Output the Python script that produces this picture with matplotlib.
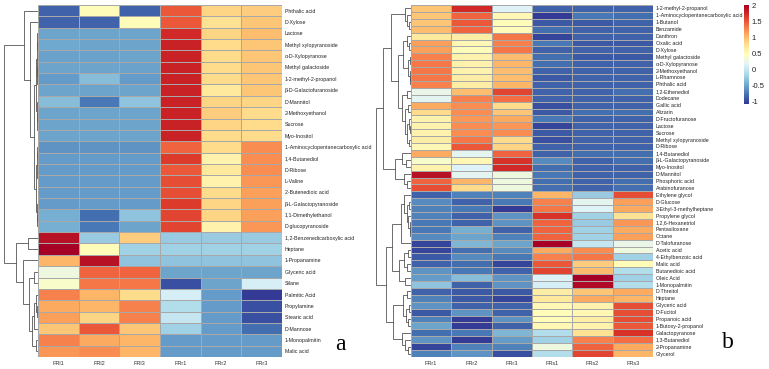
import numpy as np
import matplotlib
matplotlib.use("Agg")
import matplotlib.pyplot as plt
from matplotlib.colors import Normalize
from matplotlib.cm import ScalarMappable

plt.rcParams['font.family'] = ['Liberation Sans', 'DejaVu Sans']

# ---------------- panel a ----------------
cols_a = ['FRl1', 'FRl2', 'FRl3', 'FRr1', 'FRr2', 'FRr3']
rows_a = ['Phthalic acid', 'D-Xylose', 'Lactose', 'Methyl xylopyranoside',
          'α-D-Xylopyranose', 'Methyl galactoside', '1-2-methyl-2-propanol',
          'β-D-Galactofuranoside', 'D-Mannitol', '2-Methoxyethanol', 'Sucrose',
          'Myo-Inositol', '1-Aminocyclopentanecarboxylic acid', '1,4-Butanediol',
          'D-Ribose', 'L-Valine', '2-Butenedioic acid', 'β-L-Galactopyranoside',
          '1,1-Dimethylethanol', 'D-glucopyranoside', '1,2-Benzenedicarboxylic acid',
          'Heptane', '1-Propanamine', 'Glyceric acid', 'Silane', 'Palmitic Acid',
          'Propylamine', 'Stearic acid', 'D-Mannose', '1-Monopalmitin', 'Malic acid']
vals_a = [
    [-0.85, 0.50, -0.85, 1.50, 0.85, 0.90],
    [-0.85, -0.85, 0.50, 1.50, 0.75, 0.95],
    [-0.50, -0.50, -0.50, 1.75, 0.85, 1.00],
    [-0.48, -0.50, -0.50, 1.80, 0.80, 0.95],
    [-0.52, -0.52, -0.50, 1.80, 0.80, 0.95],
    [-0.50, -0.50, -0.52, 1.80, 0.80, 0.95],
    [-0.55, -0.35, -0.55, 1.80, 0.80, 0.95],
    [-0.50, -0.50, -0.50, 1.80, 0.70, 0.95],
    [-0.35, -0.75, -0.30, 1.80, 0.85, 0.85],
    [-0.50, -0.50, -0.50, 1.80, 0.90, 0.80],
    [-0.50, -0.50, -0.50, 1.80, 0.85, 0.80],
    [-0.50, -0.50, -0.50, 1.80, 0.80, 0.80],
    [-0.60, -0.60, -0.60, 1.45, 0.80, 1.25],
    [-0.55, -0.55, -0.55, 1.65, 0.60, 1.25],
    [-0.55, -0.55, -0.55, 1.50, 0.70, 1.25],
    [-0.55, -0.55, -0.55, 1.55, 0.60, 1.20],
    [-0.55, -0.55, -0.55, 1.55, 0.80, 1.15],
    [-0.55, -0.55, -0.55, 1.65, 0.85, 1.15],
    [-0.45, -0.80, -0.30, 1.60, 0.85, 1.15],
    [-0.45, -0.75, -0.50, 1.60, 0.60, 1.20],
    [1.90, -0.25, 0.90, -0.25, -0.25, -0.25],
    [2.05, 0.50, -0.20, -0.20, -0.20, -0.20],
    [1.05, 1.90, -0.30, -0.30, -0.30, -0.30],
    [0.30, 1.45, 1.45, -0.50, -0.50, -0.50],
    [0.40, 1.35, 1.35, -0.95, -0.50, 0.10],
    [1.30, 1.05, 0.80, 0.10, -0.55, -1.05],
    [1.10, 1.05, 1.30, -0.10, -0.55, -0.95],
    [1.15, 0.85, 1.30, 0.00, -0.55, -0.95],
    [0.95, 1.50, 0.95, -0.20, -0.55, -0.80],
    [1.30, 1.10, 1.05, -0.55, -0.55, -0.55],
    [1.20, 1.25, 1.05, -0.55, -0.55, -0.55],
]
# row tree: [merge height, left, right], leaves are row indices
tree_a = [34,
          [14, 0,
           [8, 1,
            [4,
             [1.8, [1.0, [0.6, 2, [0.4, 3, 4]], [0.7, 5, [0.5, 6, 7]]],
              [1.2, 8, [0.8, 9, [0.5, 10, 11]]]],
             [2.2, [1.0, [0.6, 12, 13], [0.5, 14, [0.3, 15, 16]]],
              [1.3, 17, [0.9, 18, 19]]]]]],
          [22,
           [10, 20, 21],
           [15, 22,
            [9, [4, 23, 24],
             [6.5, [4, [2.5, 25, [1.5, 26, 27]], 28], [2, 29, 30]]]]]]

# ---------------- panel b ----------------
cols_b = ['FRr1', 'FRr2', 'FRr3', 'FRs1', 'FRs2', 'FRs3']
rows_b = ['1-2-methyl-2-propanol', '1-Aminocyclopentanecarboxylic acid', '1-Butanol',
          'Benzamide', 'Danthron', 'Oxalic acid', 'D-Xylose', 'Methyl galactoside',
          'α-D-Xylopyranose', '2-Methoxyethanol', 'L-Rhamnose', 'Phthalic acid',
          '1,2-Ethenediol', 'Dodecane', 'Gallic acid', 'Alizarin', 'D-Fructofuranose',
          'Lactose', 'Sucrose', 'Methyl xylopyranoside', 'D-Ribose', '1,4-Butanediol',
          'β-L-Galactopyranoside', 'Myo-Inositol', 'D-Mannitol', 'Phosphoric acid',
          'Arabinofuranose', 'Ethylene glycol', 'D-Glucose', '3-Ethyl-3-methylheptane',
          'Propylene glycol', '1,2,6-Hexanetriol', 'Pentasiloxane', 'Octane',
          'D-Talofuranose', 'Acetic acid', '4-Ethylbenzoic acid', 'Malic acid',
          'Butanedioic acid', 'Oleic Acid', '1-Monopalmitin', 'D-Threitol', 'Heptane',
          'Glyceric acid', 'D-Fucitol', 'Propanoic acid', '1-Butoxy-2-propanol',
          'Galactopyranose', '1,3-Butanediol', '2-Propanamine', 'Glycerol']
vals_b = [
    [0.95, 1.75, 0.15, -0.85, -0.85, -0.85],
    [0.95, 1.45, 0.55, -1.05, -0.75, -0.80],
    [0.95, 1.50, 0.50, -0.90, -0.90, -0.85],
    [1.00, 1.45, 0.50, -0.80, -0.85, -0.85],
    [0.70, 0.65, 1.35, -1.00, -0.85, -0.85],
    [1.15, 0.55, 1.30, -0.75, -0.90, -0.90],
    [1.15, 0.50, 1.35, -0.85, -0.85, -0.85],
    [1.30, 0.60, 1.00, -0.80, -0.90, -0.90],
    [1.35, 0.60, 1.05, -0.80, -0.85, -0.85],
    [1.35, 0.60, 1.00, -0.85, -0.85, -0.85],
    [1.35, 0.65, 1.00, -0.90, -0.85, -0.85],
    [1.30, 0.65, 1.05, -0.85, -0.85, -0.85],
    [0.25, 1.00, 1.60, -0.85, -0.85, -0.80],
    [0.20, 1.30, 1.40, -0.85, -0.85, -0.85],
    [1.10, 1.25, 0.80, -0.95, -0.85, -0.85],
    [0.80, 1.25, 0.95, -0.90, -0.80, -0.80],
    [0.60, 1.20, 1.10, -0.75, -0.85, -0.85],
    [0.60, 1.25, 1.20, -1.00, -0.85, -0.85],
    [0.60, 1.25, 1.25, -0.90, -0.85, -0.85],
    [0.65, 1.35, 0.80, -0.95, -0.85, -0.85],
    [0.55, 1.50, 0.85, -0.85, -0.85, -0.85],
    [1.10, 0.20, 1.45, -0.85, -0.80, -0.80],
    [0.40, 0.55, 1.70, -0.65, -0.85, -0.80],
    [0.60, 0.15, 1.75, -0.80, -0.85, -0.85],
    [1.90, 0.20, 0.30, -0.75, -0.85, -0.85],
    [1.45, 1.05, 0.30, -0.80, -0.85, -0.80],
    [1.55, 0.80, 0.30, -0.80, -0.85, -0.80],
    [-0.85, -0.70, -0.70, 1.05, -0.25, 1.55],
    [-0.65, -0.85, -0.75, 1.30, 0.20, 1.15],
    [-0.70, -0.75, -1.05, 1.35, 0.15, 1.10],
    [-0.70, -0.85, -0.60, 1.70, -0.20, 0.75],
    [-0.75, -0.85, -0.60, 1.45, -0.25, 1.20],
    [-0.75, -0.45, -0.85, 1.45, -0.20, 1.10],
    [-0.65, -0.50, -0.70, 1.45, -0.20, 1.15],
    [-1.00, -0.40, -0.50, 2.00, 0.00, 0.25],
    [-1.00, -0.80, -0.65, 1.10, 1.25, 0.30],
    [-0.90, -0.65, -0.75, 1.30, 1.35, -0.20],
    [-0.85, -0.80, -1.00, 1.50, 0.90, 0.50],
    [-0.60, -0.75, -0.85, 1.60, 1.00, -0.10],
    [-0.55, -0.35, -0.60, 0.15, 2.05, -0.20],
    [-0.30, -0.85, -0.60, 0.10, 1.95, -0.10],
    [-0.85, -0.90, -0.90, 0.65, 0.95, 1.10],
    [-0.70, -0.90, -1.00, 0.70, 1.10, 1.05],
    [-0.60, -0.85, -0.85, 0.55, 0.60, 1.55],
    [-0.90, -0.60, -0.85, 0.50, 0.55, 1.55],
    [-0.70, -1.05, -0.60, 0.50, 0.65, 1.55],
    [-0.50, -1.05, -0.85, 0.55, 0.60, 1.50],
    [-0.80, -0.75, -0.40, -0.10, 0.75, 1.70],
    [-0.60, -1.05, -0.55, -0.20, 1.30, 1.40],
    [-1.00, -0.70, -0.70, 0.30, 1.45, 1.10],
    [-0.70, -0.60, -0.95, -0.10, 1.60, 1.05],
]
tree_b = [35,
          [28,
           [20,
            [6, 0, [4, 1, [2, 2, 3]]],
            [13,
             [8, [4, 4, [2.5, 5, 6]], [3, [1.5, 7, 8], [1.5, 9, [1, 10, 11]]]],
             [9, [4, 12, 13],
              [6, [3, 14, 15], [4, [2, 16, [1.2, 17, 18]], [2.5, 19, 20]]]]]],
           [16, [9, 21, [5, 22, 23]], [7, 24, [4, 25, 26]]]],
          [25,
           [19,
            [10, [7, 27, [4, [2, 28, 29], [3, 30, [1.5, 31, [1, 32, 33]]]]], 34],
            [12, [7, [3, 35, 36], [4, 37, 38]], [6, 39, 40]]],
           [18,
            [8, [4, 41, 42], [5, [2, 43, 44], [3, 45, 46]]],
            [9, 47, [6, 48, [3, 49, 50]]]]]]

vmin, vmax = -1.08, 2.02
cmap = plt.get_cmap('RdYlBu_r')
W, H = 769, 369


def px_axes(fig, x0, y0, x1, y1):
    return fig.add_axes([x0 / W, 1 - y1 / H, (x1 - x0) / W, (y1 - y0) / H])


def draw_tree(ax, node):
    # returns (y centre, height) of node
    if not isinstance(node, list):
        return node + 0.5, 0.0
    h, left, right = node
    yl, hl = draw_tree(ax, left)
    yr, hr = draw_tree(ax, right)
    ax.plot([hl, h, h, hr], [yl, yl, yr, yr], color='#555555', lw=0.6,
            solid_joinstyle='miter')
    return (yl + yr) / 2, h


def heatmap(ax, vals, rows, cols):
    data = np.array(vals)
    ax.pcolormesh(data, cmap=cmap, vmin=vmin, vmax=vmax,
                  edgecolors='#a8a8a8', linewidth=0.5)
    ax.set_ylim(len(rows), 0)
    ax.set_xlim(0, len(cols))
    ax.yaxis.tick_right()
    ax.set_yticks(np.arange(len(rows)) + 0.5)
    ax.set_yticklabels(rows, fontsize=3.8, color='#222222')
    ax.set_xticks(np.arange(len(cols)) + 0.5)
    ax.set_xticklabels(cols, fontsize=4, color='#333333')
    ax.tick_params(length=0, pad=2)
    ax.tick_params(axis='x', pad=3)
    for s in ax.spines.values():
        s.set_visible(False)


fig = plt.figure(figsize=(W / 100, H / 100), dpi=100)

# panel a
ax_a = px_axes(fig, 38, 5, 282, 357)
heatmap(ax_a, vals_a, rows_a, cols_a)
d_a = px_axes(fig, 0, 5, 38, 357)
draw_tree(d_a, tree_a)
d_a.set_xlim(38, 0)
d_a.set_ylim(len(rows_a), 0)
d_a.axis('off')

# panel b
ax_b = px_axes(fig, 411, 5, 653, 357)
heatmap(ax_b, vals_b, rows_b, cols_b)
d_b = px_axes(fig, 370, 5, 411, 357)
draw_tree(d_b, tree_b)
d_b.set_xlim(41, 0)
d_b.set_ylim(len(rows_b), 0)
d_b.axis('off')

# colour bar
cax = px_axes(fig, 744, 5, 749, 104)
cb = fig.colorbar(ScalarMappable(norm=Normalize(vmin, vmax), cmap=cmap), cax=cax)
ticks = [-1, -0.5, 0, 0.5, 1, 1.5, 2]
cb.set_ticks(ticks)
cb.set_ticklabels(['-1', '-0.5', '0', '0.5', '1', '1.5', '2'])
cb.outline.set_visible(False)
cax.tick_params(length=0, labelsize=5.5, pad=2, colors='#222222')

fig.text(340 / W, 1 - 345 / H, 'a', fontsize=17, family='Liberation Serif',
         ha='center', va='center')
fig.text(728 / W, 1 - 343 / H, 'b', fontsize=17, family='Liberation Serif',
         ha='center', va='center')

fig.savefig('out.png', dpi=100)
